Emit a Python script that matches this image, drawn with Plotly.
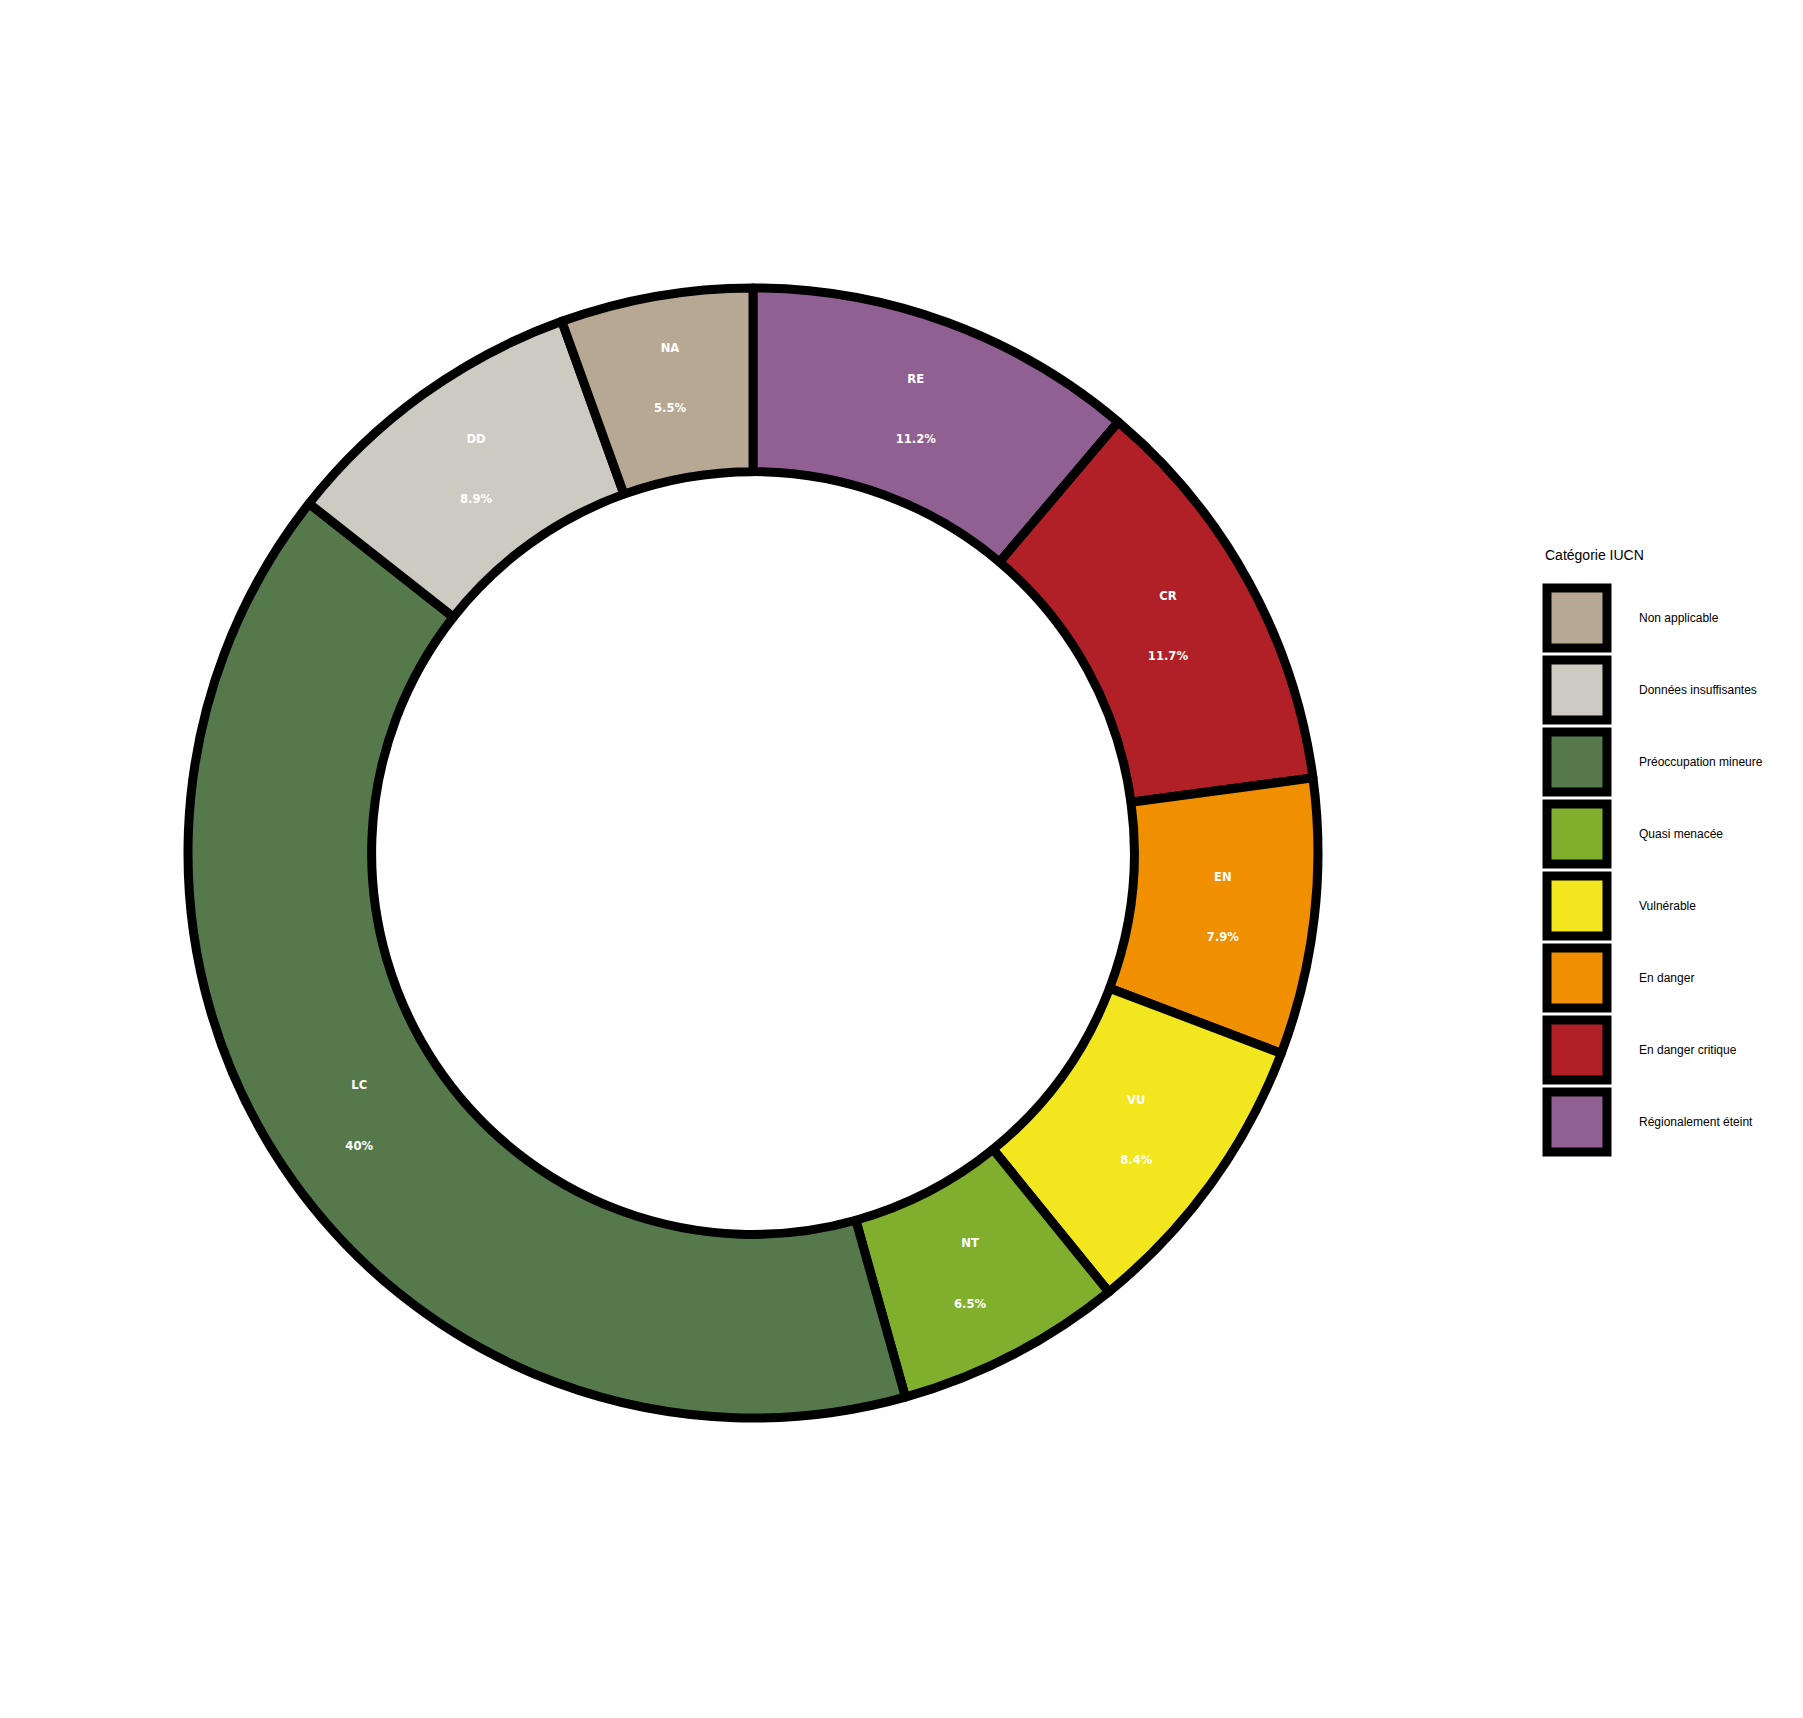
import plotly.graph_objects as go

codes = ["NA", "DD", "LC", "NT", "VU", "EN", "CR", "RE"]
names = ["Non applicable", "Données insuffisantes", "Préoccupation mineure", "Quasi menacée",
         "Vulnérable", "En danger", "En danger critique", "Régionalement éteint"]
values = [5.5, 8.9, 40.0, 6.5, 8.4, 7.9, 11.7, 11.2]
pct_labels = ["5.5%", "8.9%", "40%", "6.5%", "8.4%", "7.9%", "11.7%", "11.2%"]
colors = ["#B7A894", "#CDCAC1", "#55794B", "#80AF2E", "#F2E61E", "#F08F00", "#B02026", "#906092"]
legend_title = "Catégorie IUCN"

W, H = 1803, 1718
cx, cy, R = 753, 853, 565

texts = [f"{c}<br><br><br><br>{p}" for c, p in zip(codes, pct_labels)]

# slices drawn clockwise from 12 o'clock, starting with the last category (RE)
fig = go.Figure(go.Pie(
    labels=names[::-1],
    values=values[::-1],
    text=texts[::-1],
    textinfo="text",
    textposition="inside",
    insidetextorientation="horizontal",
    insidetextfont=dict(color="white", size=11.6, family="DejaVu Sans", weight="bold"),
    hole=0.675,
    sort=False,
    direction="clockwise",
    rotation=0,
    marker=dict(colors=colors[::-1], line=dict(color="black", width=9)),
    domain=dict(x=[(cx - R) / W, (cx + R) / W], y=[(H - cy - R) / H, (H - cy + R) / H]),
    showlegend=False,
))

shapes = []
annotations = [dict(x=1543 / W, y=1 - 555 / H, xref="paper", yref="paper", text=legend_title,
                    showarrow=False, xanchor="left", yanchor="middle",
                    font=dict(family="Liberation Sans, Arial", size=14, color="black"))]
for i, (n, col) in enumerate(zip(names, colors)):
    yc = 618 + 72 * i
    shapes.append(dict(type="rect", xref="paper", yref="paper",
                       x0=1547 / W, x1=1607 / W, y0=1 - (yc - 30) / H, y1=1 - (yc + 30) / H,
                       fillcolor=col, line=dict(color="black", width=9)))
    annotations.append(dict(x=1637 / W, y=1 - yc / H, xref="paper", yref="paper", text=n,
                            showarrow=False, xanchor="left", yanchor="middle",
                            font=dict(family="Liberation Sans, Arial", size=12, color="black")))

fig.update_layout(
    width=W, height=H,
    margin=dict(l=0, r=0, t=0, b=0),
    paper_bgcolor="white", plot_bgcolor="white",
    shapes=shapes, annotations=annotations,
)

fig.write_html("out.html")
